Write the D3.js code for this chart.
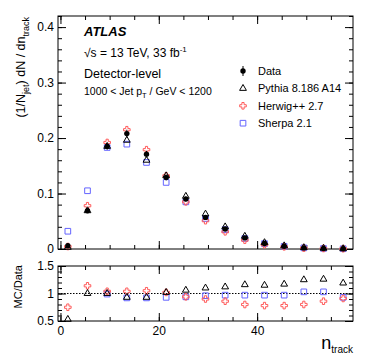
<!DOCTYPE html>
<html>
<head>
<meta charset="utf-8">
<script src="https://cdn.jsdelivr.net/npm/d3@7"></script>
<style>
  body { margin: 0; background: #fff; }
  text { font-family: "Liberation Sans", Arial, sans-serif; fill: #000; }
</style>
</head>
<body>
<div id="chart"></div>
<script>
// bin centres (n_track), bins of 4 from -0.5
var nTrack = [1.5, 5.5, 9.5, 13.5, 17.5, 21.5, 25.5, 29.5, 33.5, 37.5, 41.5, 45.5, 49.5, 53.5, 57.5];

// top panel: (1/Njet) dN/dn_track
var dataVals   = [0.006, 0.069, 0.185, 0.208, 0.171, 0.129, 0.090, 0.057, 0.036, 0.020, 0.010, 0.005, 0.002, 0.001, 0.0005];
var dataErr    = [0.002, 0.004, 0.006, 0.007, 0.006, 0.005, 0.004, 0.003, 0.003, 0.002, 0.002, 0.0015, 0.001, 0.001, 0.001];
var pythiaVals = [0.003, 0.069, 0.185, 0.196, 0.160, 0.132, 0.095, 0.063, 0.040, 0.023, 0.0115, 0.0058, 0.0025, 0.0013, 0.0006];
var herwigVals = [0.0045, 0.078, 0.192, 0.215, 0.179, 0.132, 0.085, 0.051, 0.031, 0.016, 0.0078, 0.0039, 0.0016, 0.0009, 0.0005];
var sherpaVals = [0.032, 0.105, 0.183, 0.189, 0.156, 0.120, 0.085, 0.055, 0.035, 0.019, 0.0097, 0.0049, 0.0021, 0.001, 0.0005];

// ratio panel: MC/Data
var pythiaRatio = [0.53, 1.00, 1.00, 0.93, 0.93, 1.02, 1.06, 1.10, 1.12, 1.16, 1.15, 1.17, 1.25, 1.26, 1.19];
var herwigRatio = [0.75, 1.14, 1.04, 1.04, 1.05, 1.02, 0.94, 0.90, 0.86, 0.80, 0.78, 0.78, 0.80, 0.86, 0.91];
var sherpaRatio = [6.0, 1.55, 0.99, 0.92, 0.92, 0.93, 0.94, 0.96, 0.97, 0.97, 0.97, 0.97, 1.03, 1.03, 0.93];

var topMajor = [0, 0.1, 0.2, 0.3, 0.4];
var ratioMajor = [0.5, 1, 1.5];
var xMajor = [0, 20, 40];

var width = 374,
    height = 362,
    left = 58,
    right = 353,
    topY0 = 16, topY1 = 249,
    ratY0 = 266, ratY1 = 321,
    red = "#ff5a5a",
    blue = "#6464ff";

var svg = d3.select("#chart").append("svg")
  .attr("width", width)
  .attr("height", height);

var x = d3.scaleLinear().domain([-0.5, 59.5]).range([left, right]);
var y = d3.scaleLinear().domain([0, 0.42]).range([topY1, topY0]);
var yr = d3.scaleLinear().domain([0.5, 1.5]).range([ratY1, ratY0]);

var xMinor = d3.range(0, 60, 5);
var topMinor = d3.range(0, 0.421, 0.02);
var ratioMinor = d3.range(0.5, 1.501, 0.1);

// draw ticks for one panel (inward on all four sides)
function frame(ys, y0, y1, yMajor, yMinor, yFmt, xLabels) {
  var g = svg.append("g");
  var ax;
  // left
  g.append("g").attr("transform", "translate(" + left + ",0)")
    .call(d3.axisLeft(ys).tickValues(yMinor).tickSize(-4).tickSizeOuter(0).tickFormat(""));
  g.append("g").attr("transform", "translate(" + left + ",0)")
    .call(d3.axisLeft(ys).tickValues(yMajor).tickSize(-8).tickSizeOuter(0).tickPadding(4).tickFormat(yFmt))
    .selectAll("text").style("font-size", "12px");
  // right
  g.append("g").attr("transform", "translate(" + right + ",0)")
    .call(d3.axisRight(ys).tickValues(yMinor).tickSize(-4).tickSizeOuter(0).tickFormat(""));
  g.append("g").attr("transform", "translate(" + right + ",0)")
    .call(d3.axisRight(ys).tickValues(yMajor).tickSize(-8).tickSizeOuter(0).tickFormat(""));
  // bottom
  g.append("g").attr("transform", "translate(0," + y1 + ")")
    .call(d3.axisBottom(x).tickValues(xMinor).tickSize(-4).tickSizeOuter(0).tickFormat(""));
  ax = g.append("g").attr("transform", "translate(0," + y1 + ")")
    .call(d3.axisBottom(x).tickValues(xMajor).tickSize(-8).tickSizeOuter(0).tickPadding(5)
      .tickFormat(xLabels ? d3.format("d") : ""));
  ax.selectAll("text").style("font-size", "12px");
  // top
  g.append("g").attr("transform", "translate(0," + y0 + ")")
    .call(d3.axisTop(x).tickValues(xMinor).tickSize(-4).tickSizeOuter(0).tickFormat(""));
  g.append("g").attr("transform", "translate(0," + y0 + ")")
    .call(d3.axisTop(x).tickValues(xMajor).tickSize(-8).tickSizeOuter(0).tickFormat(""));

  g.selectAll(".domain").remove();
  g.selectAll(".tick line").attr("stroke", "#000");
  g.selectAll("text").style("font-family", "Liberation Sans, Arial, sans-serif").attr("fill", "#000");

  g.append("rect")
    .attr("x", left).attr("y", y0)
    .attr("width", right - left).attr("height", y1 - y0)
    .attr("fill", "none").attr("stroke", "#000").attr("stroke-width", 1);
}

frame(y, topY0, topY1, topMajor, topMinor, function (d) { return d === 0 ? "0" : d3.format(".1f")(d); }, false);
frame(yr, ratY0, ratY1, ratioMajor, ratioMinor, function (d) { return d === 1 ? "1" : d3.format(".1f")(d); }, true);

// dotted line at 1
svg.append("line")
  .attr("x1", left).attr("x2", right)
  .attr("y1", yr(1)).attr("y2", yr(1))
  .attr("stroke", "#000").attr("stroke-width", 1).attr("stroke-dasharray", "1.5,1.5");

var tri = d3.symbol().type(d3.symbolTriangle).size(20);
var cross = d3.symbol().type(d3.symbolCross).size(24);
var square = d3.symbol().type(d3.symbolSquare).size(32);

function marks(vals, ys, shape, color, keep) {
  svg.append("g").selectAll("path")
    .data(vals.map(function (v, i) { return { n: nTrack[i], v: v }; }).filter(keep))
    .enter().append("path")
    .attr("d", shape)
    .attr("transform", function (d) { return "translate(" + x(d.n) + "," + ys(d.v) + ")"; })
    .attr("fill", "none")
    .attr("stroke", color)
    .attr("stroke-width", 1);
}

var all = function () { return true; };
var inRatio = function (d) { return d.v >= 0.5 && d.v <= 1.5; };

// top panel
marks(sherpaVals, y, square, blue, all);
marks(herwigVals, y, cross, red, all);
marks(pythiaVals, y, tri, "#000", all);

var dat = svg.append("g").selectAll("g")
  .data(dataVals.map(function (v, i) { return { n: nTrack[i], v: v, e: dataErr[i] }; }))
  .enter().append("g");
dat.append("line")
  .attr("x1", function (d) { return x(d.n); })
  .attr("x2", function (d) { return x(d.n); })
  .attr("y1", function (d) { return y(d.v - d.e); })
  .attr("y2", function (d) { return y(d.v + d.e); })
  .attr("stroke", "#000").attr("stroke-width", 1);
dat.append("circle")
  .attr("cx", function (d) { return x(d.n); })
  .attr("cy", function (d) { return y(d.v); })
  .attr("r", 2.7)
  .attr("fill", "#000");

// ratio panel
marks(sherpaRatio, yr, square, blue, inRatio);
marks(herwigRatio, yr, cross, red, inRatio);
marks(pythiaRatio, yr, tri, "#000", inRatio);

// legend
var legend = [
  { label: "Data", kind: "data" },
  { label: "Pythia 8.186 A14", kind: "tri" },
  { label: "Herwig++ 2.7", kind: "cross" },
  { label: "Sherpa 2.1", kind: "square" }
];
var lg = svg.append("g").selectAll("g")
  .data(legend)
  .enter().append("g")
  .attr("transform", function (d, i) { return "translate(243," + (71 + i * 17.4) + ")"; });
lg.each(function (d) {
  var s = d3.select(this);
  if (d.kind === "data") {
    s.append("line").attr("y1", -5).attr("y2", 5).attr("stroke", "#000");
    s.append("circle").attr("r", 2.7).attr("fill", "#000");
  } else {
    s.append("path")
      .attr("d", d.kind === "tri" ? tri : d.kind === "cross" ? cross : square)
      .attr("fill", "none")
      .attr("stroke", d.kind === "tri" ? "#000" : d.kind === "cross" ? red : blue)
      .attr("stroke-width", 1);
  }
});
lg.append("text")
  .attr("x", 15).attr("y", 4)
  .style("font-size", "11px")
  .text(function (d) { return d.label; });

// labels in the plot
svg.append("text")
  .attr("x", 84).attr("y", 36)
  .style("font-size", "13px").style("font-weight", "bold").style("font-style", "italic")
  .text("ATLAS");

var t1 = svg.append("text").attr("x", 84).attr("y", 57).style("font-size", "12px");
t1.append("tspan").text("\u221As = 13 TeV, 33 fb");
t1.append("tspan").attr("dy", -5).style("font-size", "8px").text("-1");

svg.append("text")
  .attr("x", 84).attr("y", 78)
  .style("font-size", "12.5px")
  .text("Detector-level");

var t2 = svg.append("text").attr("x", 84).attr("y", 95).style("font-size", "10.5px");
t2.append("tspan").text("1000 < Jet p");
t2.append("tspan").attr("dy", 3).style("font-size", "7.5px").text("T");
t2.append("tspan").attr("dy", -3).text(" / GeV < 1200");

// axis titles
var yt = svg.append("text")
  .attr("transform", "translate(25,17) rotate(-90)")
  .attr("text-anchor", "end")
  .style("font-size", "12.5px");
yt.append("tspan").text("(1/N");
yt.append("tspan").attr("dy", 4).style("font-size", "9px").text("jet");
yt.append("tspan").attr("dy", -4).text(") dN / dn");
yt.append("tspan").attr("dy", 4).style("font-size", "9px").text("track");

svg.append("text")
  .attr("transform", "translate(22,265) rotate(-90)")
  .attr("text-anchor", "end")
  .style("font-size", "11px")
  .text("MC/Data");

var xt = svg.append("text")
  .attr("x", 353).attr("y", 349)
  .attr("text-anchor", "end")
  .style("font-size", "18px");
xt.append("tspan").text("n");
xt.append("tspan").attr("dy", 4).style("font-size", "10px").text("track");
</script>
</body>
</html>
